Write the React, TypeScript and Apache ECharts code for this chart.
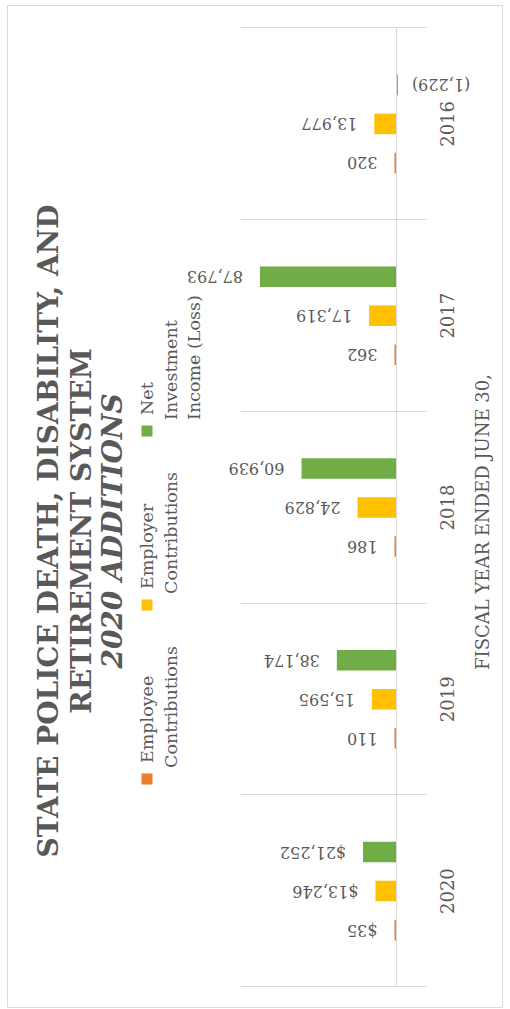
import React, { useEffect, useRef } from 'react';
import * as echarts from 'echarts';

// ---- data ----
const years = ['2020', '2019', '2018', '2017', '2016'];
const employeeContrib = [35, 110, 186, 362, 320];
const employerContrib = [13246, 15595, 24829, 17319, 13977];
const netInvestment = [21252, 38174, 60939, 87793, -1229];
const seriesNames = ['Employee Contributions', 'Employer Contributions', 'Net Investment Income (Loss)'];
const legendLines = [
  ['Employee', 'Contributions'],
  ['Employer', 'Contributions'],
  ['Net', 'Investment', 'Income (Loss)'],
];
const seriesColors = ['#ED7D31', '#FFC000', '#70AD47'];
const titleLines = ['STATE POLICE DEATH, DISABILITY, AND', 'RETIREMENT SYSTEM', '2020 ADDITIONS'];
const axisTitle = 'FISCAL YEAR ENDED JUNE 30,';
const valueMin = -20000;
const valueMax = 100000;
const valueStep = 20000;

const TEXT = '#595959';
const LINE = '#d9d9d9';
const FONT = 'DejaVu Serif';

const withCommas = (n: number) => String(Math.round(n)).replace(/\B(?=(\d{3})+(?!\d))/g, ',');
const fmtLabel = (v: number, idx: number) => {
  const core = v < 0 ? `(${withCommas(Math.abs(v))})` : withCommas(v);
  return idx === 0 ? '$' + core : core;
};

export default function App() {
  const ref = useRef<HTMLDivElement>(null);

  useEffect(() => {
    if (!ref.current) return;
    const chart = echarts.init(ref.current, null, { renderer: 'svg' });

    const mkSeries = (name: string, values: number[], color: string, idx: number) => ({
      type: 'bar',
      name,
      barGap: '90%',
      barCategoryGap: '48.6%',
      barMinHeight: idx === 0 ? 1.5 : 0,
      itemStyle: { color },
      data: values.map((v) =>
        v < 0
          ? { value: v, label: { position: 'bottom', align: 'right', distance: 14 } }
          : v
      ),
      label: {
        show: true,
        position: 'top',
        rotate: 90,
        align: 'left',
        verticalAlign: 'middle',
        distance: 17,
        color: TEXT,
        fontFamily: FONT,
        fontSize: 16,
        formatter: (p: any) => fmtLabel(p.value, p.dataIndex),
      },
      ...(idx === 0
        ? {
            markLine: {
              silent: true,
              symbol: ['none', 'none'],
              label: { show: false },
              lineStyle: { color: LINE, type: 'solid', width: 1 },
              data: [{ yAxis: 0 }],
            },
          }
        : {}),
    });

    const legendCenters = [230, 404, 578];
    const legendGraphics: any[] = [];
    legendCenters.forEach((cx, i) => {
      legendGraphics.push({
        type: 'rect',
        shape: { x: cx - 5.5, y: 147 - 5.5, width: 11, height: 11 },
        style: { fill: seriesColors[i] },
        silent: true,
      });
      legendLines[i].forEach((t, j) => {
        legendGraphics.push({
          type: 'text',
          x: cx + (j === 0 ? 16 : 11),
          y: 147 + 23.5 * j,
          silent: true,
          style: {
            text: t,
            fill: TEXT,
            fontFamily: FONT,
            fontSize: 17.5,
            align: 'left',
            textAlign: 'left',
            verticalAlign: 'middle',
            textVerticalAlign: 'middle',
          },
        });
      });
    });

    const titleYs = [48, 81, 112];
    const titleGraphics = titleLines.map((t, i) => ({
      type: 'text',
      x: 478,
      y: titleYs[i],
      silent: true,
      style: {
        text: t,
        fill: TEXT,
        fontFamily: FONT,
        fontSize: 28,
        fontWeight: 'bold',
        fontStyle: i === 2 ? 'italic' : 'normal',
        align: 'center',
        textAlign: 'center',
        verticalAlign: 'middle',
        textVerticalAlign: 'middle',
      },
    }));

    chart.setOption({
      animation: false,
      backgroundColor: '#ffffff',
      grid: { left: 22, right: 28, top: 241, bottom: 83, containLabel: false, outerBoundsMode: 'none' },
      xAxis: {
        type: 'category',
        data: years,
        axisLine: { show: false },
        axisTick: { show: false },
        splitLine: { show: true, interval: 0, lineStyle: { color: LINE, width: 1 } },
        axisLabel: { interval: 0, color: TEXT, fontFamily: FONT, fontSize: 18, margin: 11 },
      },
      yAxis: {
        type: 'value',
        min: valueMin,
        max: valueMax,
        interval: valueStep,
        show: false,
        splitLine: { show: false },
      },
      series: [
        mkSeries(seriesNames[0], employeeContrib, seriesColors[0], 0),
        mkSeries(seriesNames[1], employerContrib, seriesColors[1], 1),
        mkSeries(seriesNames[2], netInvestment, seriesColors[2], 2),
      ],
      graphic: [
        {
          type: 'rect',
          shape: { x: 1.5, y: 7.5, width: 1002, height: 495 },
          style: { fill: 'none', stroke: LINE, lineWidth: 1 },
          silent: true,
          z: -10,
        },
        ...titleGraphics,
        ...legendGraphics,
        {
          type: 'text',
          x: 487,
          y: 482,
          silent: true,
          style: {
            text: axisTitle,
            fill: TEXT,
            fontFamily: FONT,
            fontSize: 18,
            align: 'center',
            textAlign: 'center',
            verticalAlign: 'middle',
            textVerticalAlign: 'middle',
          },
        },
      ],
    });

    return () => chart.dispose();
  }, []);

  return (
    <div
      style={{
        position: 'fixed',
        left: 0,
        top: 0,
        width: 510,
        height: 1009,
        overflow: 'hidden',
        background: '#ffffff',
      }}
    >
      <div
        ref={ref}
        style={{
          position: 'absolute',
          left: 0,
          top: 0,
          width: 1009,
          height: 510,
          transformOrigin: '0 0',
          transform: 'translate(0px, 1009px) rotate(-90deg)',
        }}
      />
    </div>
  );
}
